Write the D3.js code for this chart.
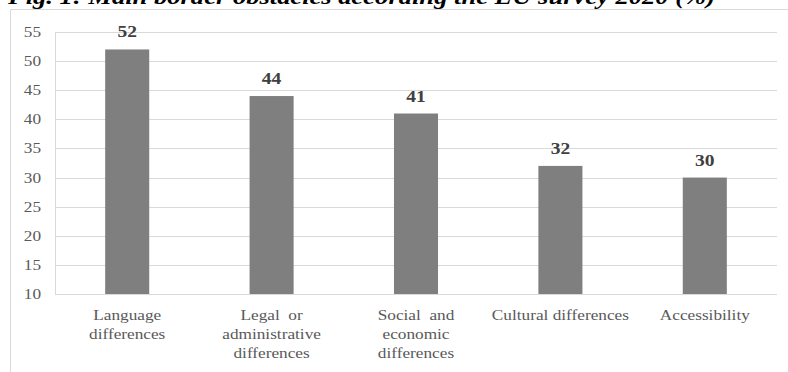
<!DOCTYPE html>
<html><head><meta charset="utf-8">
<script src="https://cdn.jsdelivr.net/npm/d3@7"></script>
<style>body{margin:0;background:#fff}svg{display:block}</style>
</head><body>
<svg id="c" width="788" height="372"></svg>
<script>
const title = "Fig. 1: Main border obstacles according the EU survey 2020 (%)";
const categories = [
  ["Language", "differences"],
  ["Legal  or", "administrative", "differences"],
  ["Social  and", "economic", "differences"],
  ["Cultural differences"],
  ["Accessibility"]
];
const values = [52, 44, 41, 32, 30];
const yTicks = [10, 15, 20, 25, 30, 35, 40, 45, 50, 55];

const FONT = "Liberation Serif, Times New Roman, serif";
const svg = d3.select("#c");
const W = 788, H = 372;
const plot = {left: 55, right: 777, top: 32, bottom: 294};

svg.append("rect").attr("width", W).attr("height", H).attr("fill", "#fff");

// frame
svg.append("path").attr("d", `M10.5,${H} V9.5 H${W}`).attr("fill", "none").attr("stroke", "#d9d9d9");

// title (partially cut off at top, as in the reference)
svg.append("text").attr("x", 8).attr("y", 4)
  .attr("font-family", FONT)
  .attr("font-weight", "bold").attr("font-style", "italic")
  .attr("font-size", 21).attr("fill", "#000")
  .attr("textLength", 707).attr("lengthAdjust", "spacingAndGlyphs")
  .text(title);

const x = d3.scaleBand().domain(d3.range(values.length)).range([plot.left, plot.right]).paddingInner(0.695).paddingOuter(0.3475);
const y = d3.scaleLinear().domain([10, 55]).range([plot.bottom, plot.top]);

// gridlines
svg.append("g").selectAll("line").data(yTicks).join("line")
  .attr("x1", plot.left).attr("x2", plot.right)
  .attr("y1", d => Math.round(y(d)) + 0.5).attr("y2", d => Math.round(y(d)) + 0.5)
  .attr("stroke", "#d9d9d9");
// y axis line
svg.append("line").attr("x1", plot.left + 0.5).attr("x2", plot.left + 0.5)
  .attr("y1", plot.top).attr("y2", plot.bottom).attr("stroke", "#d9d9d9");

// y tick labels
svg.append("g").selectAll("text").data(yTicks).join("text")
  .attr("transform", d => `translate(41,${y(d) + 5}) scale(1.15,1)`)
  .attr("text-anchor", "end")
  .attr("font-family", FONT).attr("font-size", 15).attr("fill", "#595959")
  .text(d => d);

// bars
svg.append("g").selectAll("rect").data(values).join("rect")
  .attr("x", (d, i) => x(i)).attr("width", x.bandwidth())
  .attr("y", d => y(d)).attr("height", d => y(10) - y(d))
  .attr("fill", "#7f7f7f");

// value labels
svg.append("g").selectAll("text").data(values).join("text")
  .attr("transform", (d, i) => `translate(${x(i) + x.bandwidth() / 2},${y(d) - 12}) scale(1.22,1)`)
  .attr("text-anchor", "middle")
  .attr("font-family", FONT)
  .attr("font-weight", "bold").attr("font-size", 16).attr("fill", "#404040")
  .text(d => d);

// category labels
const cg = svg.append("g").selectAll("text").data(categories).join("text")
  .attr("transform", (d, i) => `translate(${x(i) + x.bandwidth() / 2},320) scale(1.15,1)`)
  .attr("text-anchor", "middle")
  .attr("font-family", FONT)
  .attr("font-size", 15).attr("fill", "#595959")
  .style("white-space", "pre");
cg.selectAll("tspan").data(d => d).join("tspan")
  .attr("x", 0)
  .attr("dy", (d, j) => j === 0 ? 0 : 19)
  .text(d => d);
</script>
</body></html>
